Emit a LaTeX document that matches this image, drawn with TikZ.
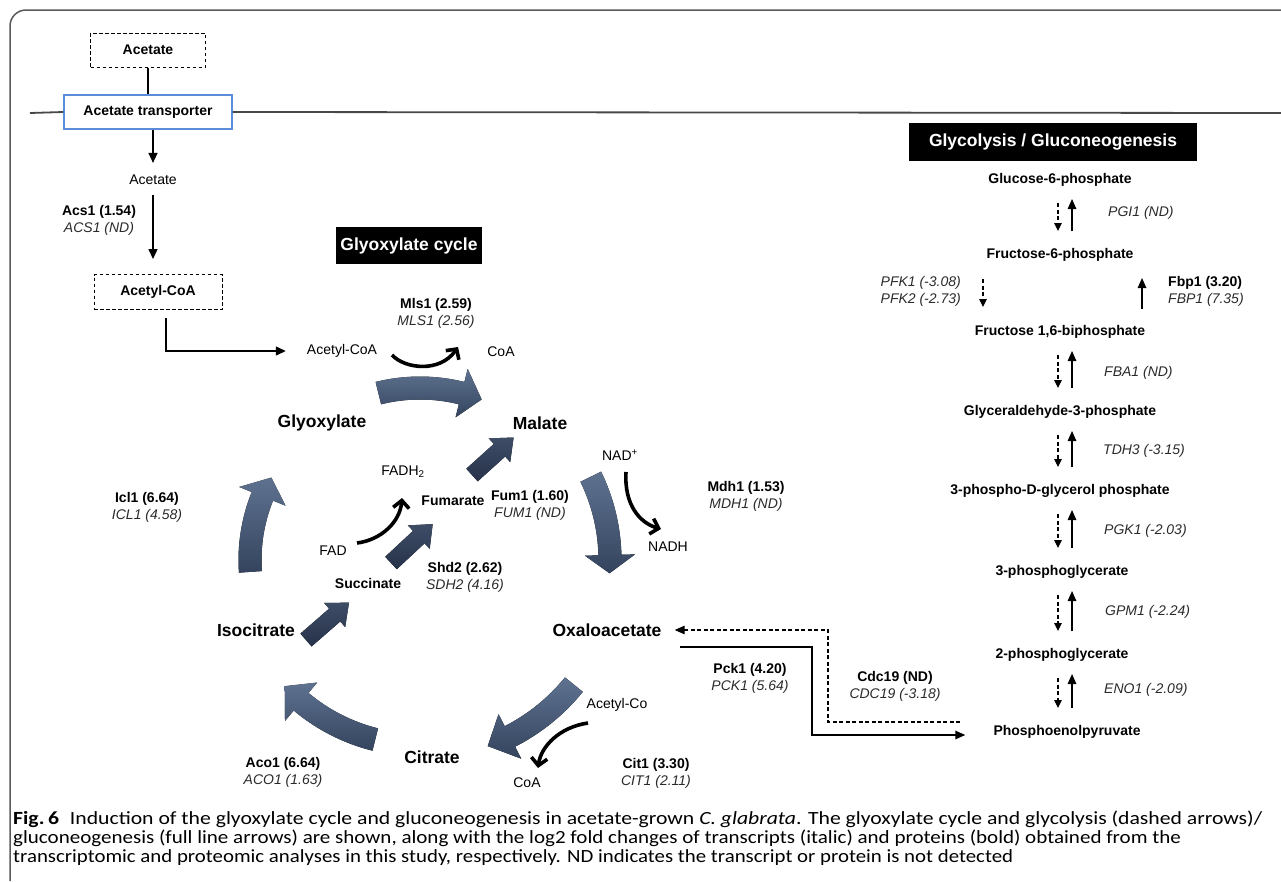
\documentclass[tikz,border=0pt]{standalone}
\usepackage{fontspec}
\setmainfont{Liberation Sans}
\newfontfamily\capfont{Carlito}
\usepackage{graphicx}
\usetikzlibrary{arrows.meta,calc}
\definecolor{arcTop}{HTML}{5E7290}
\definecolor{arcBot}{HTML}{34445E}
\definecolor{blkTop}{HTML}{3E4D66}
\definecolor{blkBot}{HTML}{27324A}
\definecolor{trBlue}{HTML}{5B8BD9}
\definecolor{frameGray}{HTML}{5A5A5A}
\definecolor{itGray}{HTML}{2A2A2A}
\newsavebox\capbox
\newcommand\fitcap[2]{%
  \sbox\capbox{\capfont\fontsize{18.6}{22}\selectfont #2}%
  \pgfmathsetmacro\capscale{#1/\wd\capbox}%
  \scalebox{\capscale}[1]{\usebox\capbox}}
\newcommand\bigarc[6]{%
  \pgfmathsetmacro\BAro{#3+11.5}\pgfmathsetmacro\BAri{#3-11.5}%
  \pgfmathsetmacro\BAho{#3+25}\pgfmathsetmacro\BAhi{#3-25}%
  \pgfmathsetmacro\BAab{#5-#6*sign(#5-#4)}%
  \begin{scope}[shift={(#1,#2)}]
    \fill[arcfill] (#4:\BAro) arc[start angle=#4, end angle=\BAab, radius=\BAro]
      -- (\BAab:\BAho) -- (#5:#3) -- (\BAab:\BAhi) -- (\BAab:\BAri)
      arc[start angle=\BAab, end angle=#4, radius=\BAri] -- cycle;
  \end{scope}}
\newcommand\blockarrow[4]{%
  \pgfmathsetmacro\BLh{#4-19}%
  \begin{scope}[shift={(#1,#2)}, rotate=#3]
    \fill[blockfill] (0,8.5) -- (\BLh,8.5) -- (\BLh,16) -- (#4,0) -- (\BLh,-16) -- (\BLh,-8.5) -- (0,-8.5) -- cycle;
  \end{scope}}
\newcommand\enzl[2]{\textbf{#1}\\\textcolor{itGray}{\itshape #2}}
\begin{document}
\begin{tikzpicture}[x=1pt,y=-1pt,
  lab/.style={font=\fontsize{14}{17}\selectfont, inner sep=1pt},
  blab/.style={font=\fontsize{14}{17}\selectfont\bfseries, inner sep=1pt},
  big/.style={font=\fontsize{17.5}{21}\selectfont\bfseries, inner sep=1pt},
  enz/.style={font=\fontsize{14}{17}\selectfont, align=center, inner sep=1pt},
  itl/.style={font=\fontsize{14}{17}\selectfont\itshape, text=itGray, inner sep=1pt},
  dbox/.style={draw, dash pattern=on 3.5pt off 2.5pt, line width=1pt, font=\fontsize{14}{17}\selectfont\bfseries, inner sep=0pt},
  tbox/.style={draw=trBlue, line width=1.3pt, fill=white, font=\fontsize{14}{17}\selectfont\bfseries, inner sep=0pt},
  ttl/.style={fill=black, text=white, font=\fontsize{17.5}{21}\selectfont\bfseries, inner sep=0pt},
  tri/.style={line width=1.4pt, -{Triangle[length=10pt,width=9pt]}},
  dsh/.style={line width=1.2pt, dash pattern=on 4pt off 2.5pt, -{Triangle[length=8pt,width=7.5pt]}},
  sol/.style={line width=1.5pt, -{Triangle[length=10pt,width=8.5pt]}},
  curv/.style={line width=3.6pt, -{Straight Barb[length=7.5pt,width=16pt]}},
  arcfill/.style={top color=arcTop, bottom color=arcBot},
  blockfill/.style={top color=blkTop, bottom color=blkBot},
  membrane/.style={line width=1.8pt, draw=frameGray!80!black}]
\useasboundingbox (0,0) rectangle (1281,881);
% frame
\draw[frameGray, line width=1.5pt, rounded corners=16pt] (10,881) -- (10,10) -- (1281,10);

% acetate uptake
\node[dbox, minimum width=115pt, minimum height=34pt] (ac0) at (148,50) {Acetate};
\node[tbox, minimum width=168pt, minimum height=34pt] (tr) at (148,112) {Acetate transporter};
\draw[membrane] (30,113) -- (tr.west);
\draw[membrane] (tr.east) -- (1281,113);
\draw[line width=1.4pt] (ac0.south) -- (tr.north);
\node[lab] (ac1) at (153,180) {Acetate};
\draw[tri, shorten >=11pt] (tr.south -| ac1) -- (ac1.north);
\node[enz] (acs) at (99,220.5) {\enzl{Acs1 (1.54)}{ACS1 (ND)}};
\node[dbox, minimum width=128pt, minimum height=35pt] (acoa) at (158,292) {Acetyl-CoA};
\draw[tri, shorten <=9pt, shorten >=15pt] (ac1.south) -- (acoa.north -| ac1);
\node[lab] (acoa2) at (342,351) {Acetyl-CoA};
\draw[tri, line width=1.2pt, shorten <=8pt, shorten >=20pt] ([xshift=8pt]acoa.south) |- (acoa2.west);

% titles
\node[ttl, minimum width=146pt, minimum height=37pt] (gct) at (409,245.5) {Glyoxylate cycle};
\node[ttl, minimum width=288pt, minimum height=38pt] (ggt) at (1053,142) {Glycolysis / Gluconeogenesis};

% big cycle arrows
\bigarc{420}{560}{172}{256}{291}{7}
\bigarc{420}{560}{190}{-26}{4}{5.5}
\bigarc{420}{560}{198}{39}{70}{7}
\bigarc{420}{560}{185}{104}{137}{7}
\bigarc{420}{560}{170}{176}{209}{7}
% straight block arrows
\blockarrow{306}{640}{41}{57}
\blockarrow{391}{563}{43}{57}
\blockarrow{472}{475}{42}{56}

% cycle metabolites
\node[big] (gly) at (322,423) {Glyoxylate};
\node[big] (mal) at (540,423) {Malate};
\node[big] (oxa) at (607,630) {Oxaloacetate};
\node[big] (citr) at (432,757) {Citrate};
\node[big] (iso) at (256,630) {Isocitrate};
\node[blab] (fum) at (453,501) {Fumarate};
\node[blab] (suc) at (368,583) {Succinate};

% cofactors
\node[lab] (coa1) at (501,352) {CoA};
\node[lab] (fadh) at (403,472) {FADH\textsubscript{2}};
\node[lab] (fad) at (333,551) {FAD};
\node[lab] (nad) at (620,455) {NAD\textsuperscript{+}};
\node[lab] (nadh) at (668,547) {NADH};
\node[lab] (acco) at (617,705) {Acetyl-Co};
\node[lab] (coa2) at (527,783) {CoA};

% enzymes
\node[enz] (mls) at (436,313.5) {\enzl{Mls1 (2.59)}{MLS1 (2.56)}};
\node[enz] (icl) at (147,507) {\enzl{Icl1 (6.64)}{ICL1 (4.58)}};
\node[enz] (fume) at (530,505.5) {\enzl{Fum1 (1.60)}{FUM1 (ND)}};
\node[enz] (shd) at (465,577.5) {\enzl{Shd2 (2.62)}{SDH2 (4.16)}};
\node[enz] (mdh) at (746,496.5) {\enzl{Mdh1 (1.53)}{MDH1 (ND)}};
\node[enz] (aco) at (283,772.5) {\enzl{Aco1 (6.64)}{ACO1 (1.63)}};
\node[enz] (cite) at (656,773.5) {\enzl{Cit1 (3.30)}{CIT1 (2.11)}};
\node[enz] (pck) at (750,678.5) {\enzl{Pck1 (4.20)}{PCK1 (5.64)}};
\node[enz] (cdc) at (895,686.5) {\enzl{Cdc19 (ND)}{CDC19 (-3.18)}};

% curved cofactor arrows
\coordinate (m1) at (392,355); \coordinate (m2) at (458,347);
\draw[curv] (m1) .. controls (405,369) and (440,373) .. (m2);
\coordinate (f1) at (357,543); \coordinate (f2) at (402,498);
\draw[curv] (f1) .. controls (381,540) and (400,522) .. (f2);
\coordinate (n1) at (626,472); \coordinate (n2) at (661,529);
\draw[curv] (n1) .. controls (624,505) and (640,523) .. (n2);
\coordinate (c1) at (588,723); \coordinate (c2) at (538,768);
\draw[curv] (c1) .. controls (560,727) and (541,746) .. (c2);

% glycolysis / gluconeogenesis column
\node[blab] (g6p) at (1060,180) {Glucose-6-phosphate};
\node[blab] (f6p) at (1060,255) {Fructose-6-phosphate};
\node[blab] (f16) at (1060,332) {Fructose 1,6-biphosphate};
\node[blab] (gap) at (1060,412) {Glyceraldehyde-3-phosphate};
\node[blab] (pdg) at (1060,491) {3-phospho-D-glycerol phosphate};
\node[blab] (pg3) at (1062,572) {3-phosphoglycerate};
\node[blab] (pg2) at (1062,655) {2-phosphoglycerate};
\node[blab] (pep) at (1067,732) {Phosphoenolpyruvate};

\coordinate (cA) at (1058,0); \coordinate (cB) at (1072,0);
\foreach \u/\v in {g6p/f6p, f16/gap, gap/pdg, pdg/pg3, pg3/pg2, pg2/pep} {
  \draw[dsh, shorten <=23pt, shorten >=24pt] (\u.center -| cA) -- (\v.center -| cA);
  \draw[sol, shorten <=24pt, shorten >=19pt] (\v.center -| cB) -- (\u.center -| cB);
}
\coordinate (cP) at (983,0); \coordinate (cF) at (1142,0);
\draw[dsh, shorten <=24pt, shorten >=25pt] (f6p.center -| cP) -- (f16.center -| cP);
\draw[sol, shorten <=23pt, shorten >=23pt] (f16.center -| cF) -- (f6p.center -| cF);

\node[itl, anchor=west] (pgi) at (1107,213) {PGI1 (ND)};
\node[itl, anchor=west] (fba) at (1103,373) {FBA1 (ND)};
\node[itl, anchor=west] (tdh) at (1102,451) {TDH3 (-3.15)};
\node[itl, anchor=west] (pgk) at (1103,531) {PGK1 (-2.03)};
\node[itl, anchor=west] (gpm) at (1104,612) {GPM1 (-2.24)};
\node[itl, anchor=west] (eno) at (1103,690) {ENO1 (-2.09)};
\node[itl, anchor=east, align=right] (pfk) at (962,291) {PFK1 (-3.08)\\PFK2 (-2.73)};
\node[enz, anchor=west, align=left] (fbp) at (1167,291) {\enzl{Fbp1 (3.20)}{FBP1 (7.35)}};

% PEP <-> oxaloacetate
\coordinate (kD) at (828,0); \coordinate (kS) at (812,0);
\draw[dsh, line width=1.3pt, -{Triangle[length=10pt,width=8.5pt]}, shorten <=32pt, shorten >=12pt]
  ([yshift=10pt]pep.west) -- ([yshift=10pt]pep.west -| kD) -- (oxa.east -| kD) -- (oxa.east);
\draw[sol, shorten <=17pt, shorten >=27pt]
  ([yshift=-17pt]oxa.east) -- ([yshift=-17pt]oxa.east -| kS) -- ([yshift=-3pt]pep.west -| kS) -- ([yshift=-3pt]pep.west);

% caption
\node[anchor=base west, inner sep=0pt] (cap1) at (13,824) {\fitcap{1249}{{\bfseries Fig.\,6}\enspace Induction of the glyoxylate cycle and gluconeogenesis in acetate-grown \textit{C. glabrata}. The glyoxylate cycle and glycolysis (dashed arrows)/}};
\node[anchor=base west, inner sep=0pt] (cap2) at (13,843) {\fitcap{1168}{gluconeogenesis (full line arrows) are shown, along with the log2 fold changes of transcripts (italic) and proteins (bold) obtained from the}};
\node[anchor=base west, inner sep=0pt] (cap3) at (13,862) {\fitcap{1000}{transcriptomic and proteomic analyses in this study, respectively. ND indicates the transcript or protein is not detected}};
\end{tikzpicture}
\end{document}
